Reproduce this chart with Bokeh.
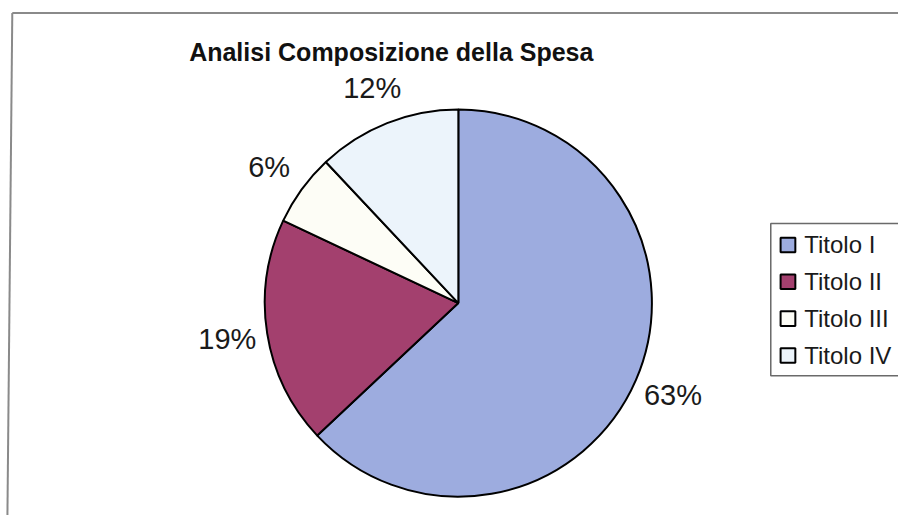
import math
from bokeh.plotting import figure
from bokeh.models import ColumnDataSource, Range1d
from bokeh.core.properties import value
from bokeh.embed import file_html
from bokeh.resources import INLINE

# ---- data ----
categories = ["Titolo I", "Titolo II", "Titolo III", "Titolo IV"]
shares = [63, 19, 6, 12]
colors = ["#9dacdf", "#a3406e", "#fdfdf6", "#ecf4fb"]
title_text = "Analisi Composizione della Spesa"

W, H = 898, 515
REF_W, REF_H = 914, 531
FONT = "Liberation Sans"

def Y(sy):
    # reference-image y (from top) -> data y
    return REF_H - sy

p = figure(width=W, height=H, output_backend="svg", toolbar_location=None,
           x_range=Range1d(0, REF_W), y_range=Range1d(0, REF_H),
           min_border=0, outline_line_color=None)
p.axis.visible = False
p.grid.visible = False
p.background_fill_color = "white"
p.border_fill_color = "white"

# outer chart frame (top and left edges visible in the scan)
p.line(x=[12, REF_W + 5], y=[Y(13), Y(13)], line_color="#8a8a8a", line_width=2)
p.line(x=[12, 7], y=[Y(13), -5], line_color="#8a8a8a", line_width=2)

# ---- pie ----
cx, cy, r = 466, Y(312), 197
total = float(sum(shares))
starts, ends, mids = [], [], []
cum = 0.0
for v in shares:
    a_before = math.pi / 2 - 2 * math.pi * cum / total
    cum += v
    a_after = math.pi / 2 - 2 * math.pi * cum / total
    starts.append(a_after)
    ends.append(a_before)
    mids.append((a_before + a_after) / 2)

src = ColumnDataSource(dict(cat=categories, val=shares, color=colors,
                            start=starts, end=ends))
p.wedge(x=cx, y=cy, radius=r, start_angle="start", end_angle="end",
        fill_color="color", line_color="black", line_width=2, source=src)

lr = 238
lab = ColumnDataSource(dict(
    x=[cx + lr * math.cos(m) for m in mids],
    y=[cy + lr * math.sin(m) for m in mids],
    t=[f"{v}%" for v in shares]))
p.text(x="x", y="y", text="t", source=lab, text_font=value(FONT),
       text_font_size="29px", text_align="center", text_baseline="middle",
       text_color="#1a1a1a")

# ---- title ----
p.text(x=[192], y=[Y(53)], text=[title_text], text_font=value(FONT),
       text_font_size="25px", text_font_style="bold", text_align="left",
       text_baseline="alphabetic", text_color="#111111")

# ---- legend ----
p.quad(left=[784], right=[REF_W + 20], top=[Y(230)], bottom=[Y(387)],
       fill_color=None, line_color="#6a6a6a", line_width=1.5)
row0, pitch = 252, 38
leg = ColumnDataSource(dict(
    x=[801.5] * len(categories),
    y=[Y(row0 + i * pitch) for i in range(len(categories))],
    tx=[818] * len(categories),
    ty=[Y(row0 + i * pitch) for i in range(len(categories))],
    label=categories, color=colors))
p.rect(x="x", y="y", width=15, height=15, fill_color="color",
       line_color="black", line_width=2, source=leg)
p.text(x="tx", y="ty", text="label", source=leg, text_font=value(FONT),
       text_font_size="24px", text_align="left", text_baseline="middle",
       text_color="#1a1a1a")

open("out.html", "w").write(file_html(p, INLINE))
